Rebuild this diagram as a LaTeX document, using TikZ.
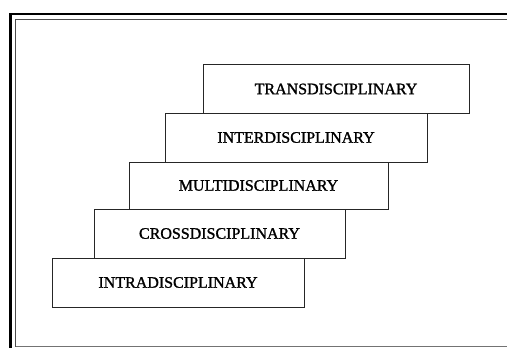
\documentclass[tikz,border=0pt]{standalone}
\usepackage{fontspec}
\setmainfont{Liberation Serif}
\newfontfamily\scanfont[BoldFont={Liberation Serif},BoldFeatures={FakeBold=1.3}]{Liberation Serif}
\begin{document}
\begin{tikzpicture}[x=1pt,y=-1pt,
  levelbox/.style={draw=black!85,line width=1pt,fill=white,inner sep=0pt,font=\scanfont\bfseries\fontsize{16}{18}\selectfont},
  frameouter/.style={draw=black,line width=2.6pt},
  frameinner/.style={draw=black!70,line width=0.9pt}]
\useasboundingbox (0,0) rectangle (507,348);
% frame
\draw[frameouter] (10.5,348) -- (10.5,14) -- (507,14);
\draw[frameinner] (15.5,346.5) -- (15.5,19) -- (507,19);
\draw[frameinner,draw=black!55] (15.5,346.5) -- (507,346.5);
% levels
\node[levelbox,minimum width=266pt,minimum height=49pt] (trans) at (336,89) {TRANSDISCIPLINARY};
\node[levelbox,minimum width=262pt,minimum height=49pt] (inter) at (296,137.5) {INTERDISCIPLINARY};
\node[levelbox,minimum width=259pt,minimum height=47pt] (multi) at (258.5,185.5) {MULTIDISCIPLINARY};
\node[levelbox,minimum width=251pt,minimum height=49pt] (cross) at (219.5,233.5) {CROSSDISCIPLINARY};
\node[levelbox,minimum width=252pt,minimum height=49pt] (intra) at (178,282.5) {INTRADISCIPLINARY};
\end{tikzpicture}
\end{document}
